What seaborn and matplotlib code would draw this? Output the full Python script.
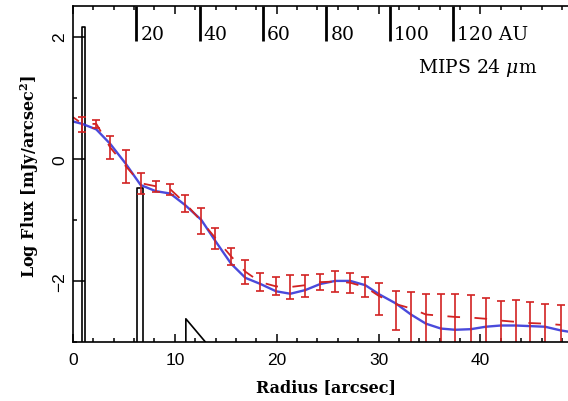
import matplotlib
matplotlib.use("Agg")
import matplotlib.pyplot as plt
import seaborn as sns
import numpy as np
from matplotlib.ticker import MultipleLocator
from matplotlib.transforms import blended_transform_factory, ScaledTranslation

# ---------------- data ----------------
# observed profile (red): radius [arcsec], log flux, error-bar top and bottom
obs_r = [0.92, 2.29, 3.67, 5.17, 6.64, 8.11, 9.55, 11.02, 12.59, 13.99, 15.53,
         16.93, 18.40, 19.94, 21.34, 22.81, 24.28, 25.75, 27.22, 28.70, 30.07,
         31.71, 33.18, 34.65, 36.12, 37.52, 39.06, 40.53, 42.00, 43.47, 44.87,
         46.34, 47.88]
obs_f = [0.57, 0.57, 0.18, -0.12, -0.40, -0.45, -0.50, -0.73, -1.02, -1.30, -1.60,
         -1.85, -2.02, -2.09, -2.10, -2.07, -2.02, -2.01, -2.03, -2.10, -2.25,
         -2.38, -2.45, -2.55, -2.57, -2.59, -2.60, -2.62, -2.65, -2.67, -2.69,
         -2.70, -2.72]
obs_hi = [0.69, 0.64, 0.37, 0.15, -0.23, -0.37, -0.41, -0.59, -0.81, -1.14, -1.46,
          -1.65, -1.87, -1.94, -1.91, -1.91, -1.89, -1.84, -1.87, -1.93, -2.04,
          -2.16, -2.18, -2.21, -2.22, -2.21, -2.23, -2.28, -2.33, -2.31, -2.35,
          -2.37, -2.40]
obs_lo = [0.43, 0.50, 0.00, -0.39, -0.57, -0.54, -0.60, -0.87, -1.24, -1.47, -1.74,
          -2.05, -2.17, -2.23, -2.30, -2.26, -2.15, -2.18, -2.20, -2.27, -2.56,
          -2.81, -3.5, -3.5, -3.5, -3.5, -3.5, -3.5, -3.5, -3.5, -3.5,
          -3.5, -3.5]
obs_r0 = 0.0      # start of dashed red line at the centre
obs_f0 = 0.68

# model profile (blue)
mod_r = [0.0, 0.92, 2.29, 3.67, 5.17, 6.64, 8.11, 9.55, 11.02, 12.59, 13.99, 15.53,
         16.93, 18.40, 19.94, 21.34, 22.81, 24.28, 25.75, 27.22, 28.70, 30.07,
         31.71, 33.18, 34.65, 36.12, 37.52, 39.06, 40.53, 42.00, 43.47, 44.87,
         46.34, 47.88, 48.6]
mod_f = [0.61, 0.57, 0.48, 0.24, -0.08, -0.43, -0.53, -0.57, -0.76, -1.00, -1.35,
         -1.72, -1.95, -2.05, -2.17, -2.21, -2.15, -2.05, -2.00, -2.00, -2.07,
         -2.22, -2.37, -2.55, -2.70, -2.78, -2.80, -2.79, -2.75, -2.73, -2.73,
         -2.74, -2.75, -2.81, -2.83]

# black outline shapes
box1_x = [0.92, 0.92, 1.20, 1.20]
box1_y = [-3.5, 2.15, 2.15, -3.5]
box2_x = [6.28, 6.28, 6.86, 6.86]
box2_y = [-3.5, -0.48, -0.48, -3.5]
tri_x = [11.08, 11.08, 13.0]
tri_y = [-3.5, -2.62, -3.0]

# top axis (AU)
au_ticks = [20, 40, 60, 80, 100, 120]
au_labels = ["20", "40", "60", "80", "100", "120 AU"]
ARCSEC_PER_AU = 0.311

RED = "#d22222"
BLUE = "#3636d8"

# ---------------- figure ----------------
sns.set_style("ticks")
plt.rcParams["mathtext.fontset"] = "dejavuserif"
plt.rcParams["font.family"] = ["DejaVu Serif"]
plt.rcParams["text.color"] = "black"
plt.rcParams["axes.labelcolor"] = "black"
plt.rcParams["xtick.color"] = "black"
plt.rcParams["ytick.color"] = "black"
plt.rcParams["axes.edgecolor"] = "black"

fig = plt.figure(figsize=(5.68, 4.02), dpi=100)
ax = fig.add_axes([73 / 568, 1 - 343 / 402, (568 - 73) / 568, 336 / 402])

# black outlines
for xs, ys in [(box1_x, box1_y), (box2_x, box2_y), (tri_x, tri_y)]:
    sns.lineplot(x=xs, y=ys, ax=ax, color="black", lw=1.2, sort=False,
                 estimator=None)

# model
sns.lineplot(x=mod_r, y=mod_f, ax=ax, color=BLUE, lw=1.7, sort=False,
             estimator=None, alpha=0.9)

# observed dashed line + error bars
line_r = [obs_r0] + obs_r
line_f = [obs_f0] + obs_f
sns.lineplot(x=line_r, y=line_f, ax=ax, color=RED, lw=1.3, sort=False,
             estimator=None, linestyle=(3, (7, 8)))
f = np.array(obs_f)
ax.errorbar(obs_r, obs_f, yerr=[f - np.array(obs_lo), np.array(obs_hi) - f],
            fmt="none", ecolor=RED, elinewidth=1.2, capsize=2.6, capthick=1.2)

ax.set_xlim(0, 48.6)
ax.set_ylim(-3, 2.5)
ax.spines["right"].set_visible(False)
for s in ["left", "bottom", "top"]:
    ax.spines[s].set_linewidth(1.2)
    ax.spines[s].set_color("black")

ax.xaxis.set_major_locator(MultipleLocator(10))
ax.xaxis.set_minor_locator(MultipleLocator(2))
ax.yaxis.set_major_locator(MultipleLocator(2))
ax.yaxis.set_minor_locator(MultipleLocator(1))
ax.tick_params(axis="x", which="both", direction="in", top=True, bottom=True,
               colors="black", width=1.1)
ax.tick_params(axis="x", which="major", length=5.5, pad=7)
ax.tick_params(axis="x", which="minor", length=3)
ax.tick_params(axis="y", which="both", direction="in", left=True, right=False,
               width=1.1, colors="black")
ax.tick_params(axis="y", which="major", length=8.5, pad=4)
ax.tick_params(axis="y", which="minor", length=3)

for lab in ax.get_xticklabels():
    lab.set_fontfamily("Liberation Sans")
    lab.set_fontsize(12.5)
ax.set_yticks([-2, 0, 2])
ax.set_yticklabels(["\u22122", "0", "2"], rotation=90, va="center",
                   fontfamily="Liberation Sans", fontsize=12.5)

ax.set_xlabel("Radius [arcsec]", fontfamily="DejaVu Serif", fontweight="bold",
              fontsize=11.5, color="black")
ax.xaxis.set_label_coords(0.511, -0.134)
ax.xaxis.label.set_va("center")
ax.set_ylabel("Log Flux [mJy/arcsec$^{\\mathbf{2}}$]", fontfamily="DejaVu Serif",
              fontweight="bold", fontsize=11.5, color="black")
ax.yaxis.set_label_coords(-0.087, 0.497)
ax.yaxis.label.set_va("center")

# secondary AU axis on top: long inward ticks
sec = ax.secondary_xaxis("top", functions=(lambda x: x / ARCSEC_PER_AU,
                                           lambda a: a * ARCSEC_PER_AU))
sec.set_xticks(au_ticks)
sec.tick_params(axis="x", which="major", direction="in", length=25, width=2,
                labeltop=False, colors="black")
sec.xaxis.set_minor_locator(plt.NullLocator())
sec.spines["top"].set_visible(False)

trans = blended_transform_factory(ax.transData, ax.transAxes) + \
    ScaledTranslation(4 / 100, 0, fig.dpi_scale_trans)
for a, lab in zip(au_ticks, au_labels):
    ax.text(a * ARCSEC_PER_AU, 0.917, lab, transform=trans, ha="left",
            va="center", fontsize=13.5, fontfamily="DejaVu Serif", color="black")

ax.text(0.937, 0.818, "MIPS 24 $\\mu$m", transform=ax.transAxes, ha="right",
        va="center", fontsize=13.5, fontfamily="DejaVu Serif", color="black")

fig.savefig("out.png", dpi=100)
